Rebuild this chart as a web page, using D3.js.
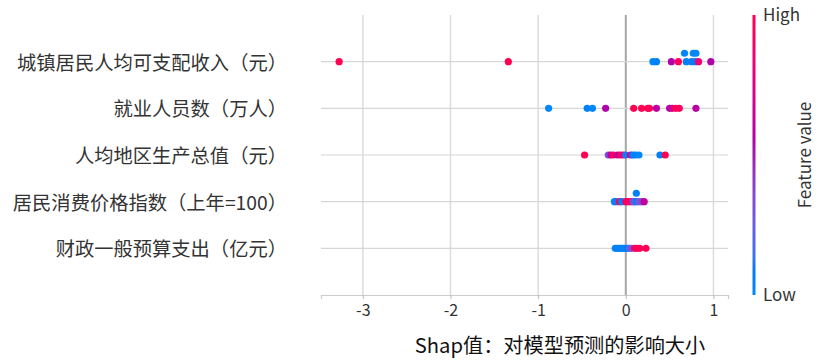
<!DOCTYPE html>
<html><head><meta charset="utf-8">
<script src="https://cdn.jsdelivr.net/npm/d3@7"></script>
<style>
body{margin:0;background:#fff}
text{font-family:"Noto Sans CJK SC","Noto Sans",sans-serif}
</style>
</head><body>
<svg id="chart" width="820" height="360"></svg>
<script>
// ---- data ----
const features = [
  "城镇居民人均可支配收入（元）",
  "就业人员数（万人）",
  "人均地区生产总值（元）",
  "居民消费价格指数（上年=100）",
  "财政一般预算支出（亿元）"
];
// SHAP values per feature (14 samples)
const shapIncome   = [-3.27, -1.34, 0.31, 0.35, 0.52, 0.60, 0.69, 0.67, 0.75, 0.77, 0.79, 0.80, 0.83, 0.97];
const shapEmploy   = [-0.88, -0.44, -0.38, -0.23, 0.09, 0.18, 0.25, 0.27, 0.35, 0.50, 0.53, 0.57, 0.61, 0.80];
const shapGDP      = [-0.47, -0.20, -0.17, -0.14, -0.09, -0.06, -0.03, 0.00, 0.055, 0.08, 0.11, 0.15, 0.39, 0.45];
const shapCPI      = [-0.13, -0.11, -0.07, -0.045, 0.00, 0.025, 0.055, 0.08, 0.10, 0.12, 0.12, 0.15, 0.18, 0.21];
const shapBudget   = [-0.12, -0.10, -0.08, -0.06, -0.04, -0.02, 0.00, 0.02, 0.04, 0.06, 0.10, 0.13, 0.16, 0.23];
// normalized feature values (0 = low, 1 = high) for colouring
const featIncome   = [1.0, 1.0, 0.0, 0.05, 0.55, 0.95, 0.05, 0.0, 0.1, 0.0, 0.05, 0.0, 0.85, 0.55];
const featEmploy   = [0.0, 0.05, 0.0, 0.55, 1.0, 1.0, 0.95, 1.0, 0.6, 0.55, 0.7, 1.0, 0.95, 0.6];
const featGDP      = [1.0, 0.3, 0.6, 0.95, 0.55, 0.9, 0.8, 0.1, 0.7, 0.05, 0.05, 0.0, 0.05, 1.0];
const featCPI      = [0.0, 0.1, 1.0, 0.05, 0.85, 1.0, 0.95, 0.4, 0.3, 0.05, 0.05, 0.3, 0.35, 0.6];
const featBudget   = [0.0, 0.05, 0.1, 0.0, 0.05, 0.0, 0.1, 0.05, 0.15, 0.3, 0.9, 1.0, 0.95, 1.0];
const tickValues = [-3, -2, -1, 0, 1];
const xTitle = "Shap值：对模型预测的影响大小";
const cbHigh = "High", cbLow = "Low", cbTitle = "Feature value";

const shapSeries = [shapIncome, shapEmploy, shapGDP, shapCPI, shapBudget];
const featSeries = [featIncome, featEmploy, featGDP, featCPI, featBudget];

const latin = '"Noto Sans","Open Sans",sans-serif';

// ---- colormap (shap red_blue, LCh) ----
const blueH = 4.6588 * 180 / Math.PI, redH = (0.35470565 + 2 * Math.PI) * 180 / Math.PI;
function shapColor(t) {
  const l = t < 0.5 ? 54 + (40 - 54) * (t / 0.5) : 40 + (54 - 40) * ((t - 0.5) / 0.5);
  const c = 70 + (90 - 70) * t;
  const h = blueH + (redH - blueH) * t;
  return d3.hcl(h, c, l).formatHex();
}

// ---- layout ----
const svg = d3.select("#chart");
const x = d3.scaleLinear().domain([-3.477, 1.166]).range([321, 728]);
const y = d3.scaleLinear().domain([-1, features.length]).range([15, 295]);

// vertical grid
svg.append("g").selectAll("line").data(tickValues).join("line")
  .attr("x1", d => x(d)).attr("x2", d => x(d))
  .attr("y1", y(-1)).attr("y2", y(features.length))
  .attr("stroke", d => d === 0 ? "#a6a6a6" : "#dcdcdc")
  .attr("stroke-width", d => d === 0 ? 2 : 1.5);

// horizontal row lines
svg.append("g").selectAll("line").data(features).join("line")
  .attr("x1", x.range()[0]).attr("x2", x.range()[1])
  .attr("y1", (d, i) => y(i)).attr("y2", (d, i) => y(i))
  .attr("stroke", "#d6d6d6").attr("stroke-width", 1.2);

// beeswarm offsets (shap algorithm)
function swarm(vals) {
  const n = vals.length, mn = d3.min(vals), mx = d3.max(vals);
  const quant = vals.map(v => Math.round(100 * (v - mn) / (mx - mn + 1e-8)));
  const order = d3.range(n).sort((a, b) => quant[a] - quant[b] || a - b);
  const ys = new Array(n).fill(0);
  let layer = 0, last = -1;
  for (const i of order) {
    if (quant[i] !== last) layer = 0;
    ys[i] = Math.ceil(layer / 2) * ((layer % 2) * 2 - 1);
    layer++; last = quant[i];
  }
  const m = d3.max(ys.map(v => v + 1));
  return ys.map(v => v * 0.9 * (0.4 / m));
}

const dotsG = svg.append("g");
features.forEach((f, i) => {
  const vals = shapSeries[i], cols = featSeries[i];
  const off = swarm(vals);
  const pts = vals.map((v, j) => ({v, c: cols[j], o: off[j]}));
  dotsG.append("g").selectAll("circle").data(pts).join("circle")
    .attr("cx", d => x(d.v)).attr("cy", d => y(i - d.o))
    .attr("r", 3.6).attr("fill", d => shapColor(d.c));
});

// feature labels
svg.append("g").selectAll("text").data(features).join("text")
  .attr("x", 287).attr("y", (d, i) => y(i)).attr("dy", "0.42em")
  .attr("text-anchor", "end").attr("font-size", 19.3).attr("fill", "#333")
  .text(d => d);

// x axis
const ax = svg.append("g").attr("transform", `translate(0,${y(features.length)})`)
  .call(d3.axisBottom(x).tickValues(tickValues).tickFormat(d => String(d)).tickSize(4).tickPadding(6));
ax.select(".domain").attr("stroke", "#cccccc").attr("stroke-width", 1.2);
ax.selectAll(".tick line").attr("stroke", "#bbb");
ax.selectAll(".tick text").attr("font-size", 16).attr("fill", "#333")
  .attr("font-family", latin);

svg.append("text").attr("x", 560).attr("y", 353).attr("text-anchor", "middle")
  .attr("font-size", 20.2).attr("fill", "#111").text(xTitle);

// colorbar
const defs = svg.append("defs");
const grad = defs.append("linearGradient").attr("id", "cb")
  .attr("x1", 0).attr("y1", 1).attr("x2", 0).attr("y2", 0);
grad.selectAll("stop").data(d3.range(0, 1.0001, 0.02)).join("stop")
  .attr("offset", d => d).attr("stop-color", d => shapColor(d));
svg.append("rect").attr("x", 752.5).attr("y", y(-1)).attr("width", 3)
  .attr("height", y(features.length) - y(-1)).attr("fill", "url(#cb)");
svg.append("text").attr("x", 763).attr("y", y(-1)).attr("dy", "0.36em")
  .attr("font-size", 17).attr("fill", "#333").attr("font-family", latin).text(cbHigh);
svg.append("text").attr("x", 763).attr("y", y(features.length)).attr("dy", "0.36em")
  .attr("font-size", 17).attr("fill", "#333").attr("font-family", latin).text(cbLow);
svg.append("text").attr("transform", `translate(805,${(y(-1) + y(features.length)) / 2}) rotate(-90)`)
  .attr("text-anchor", "middle").attr("dy", "0.36em")
  .attr("font-size", 17).attr("fill", "#333").attr("font-family", latin).text(cbTitle);
</script>
</body></html>
